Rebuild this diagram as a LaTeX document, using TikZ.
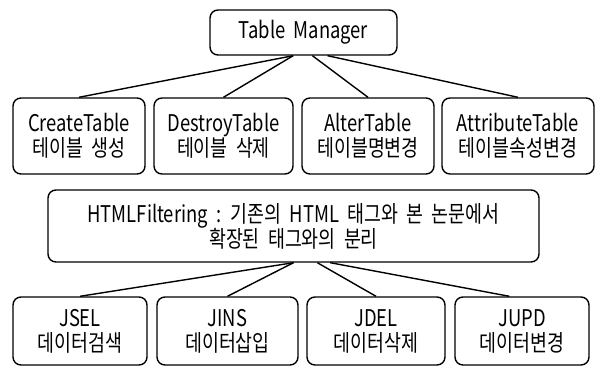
\documentclass[tikz,border=0pt]{standalone}
\usepackage{fontspec}
\setmainfont[FakeStretch=0.8,WordSpace=2]{Noto Sans CJK KR}

\begin{document}
\begin{tikzpicture}[x=1pt,y=-1pt,line width=1.4pt,
  box/.style={draw,rounded corners=8pt,align=center,inner sep=0pt,
    font=\fontsize{23}{25}\selectfont}]
\useasboundingbox (0,0) rectangle (597,371);
% ---------- 최상위 : Table Manager ----------
\node[box,minimum width=187pt,minimum height=45pt] (tm) at (303.5,32.5) {Table Manager};
% ---------- 테이블 연산 ----------
\node[box,minimum width=132pt,minimum height=76pt] (ct)  at (79,136)    {CreateTable\\테이블 생성};
\node[box,minimum width=139pt,minimum height=76pt] (dt)  at (223.5,136) {DestroyTable\\테이블 삭제};
\node[box,minimum width=132pt,minimum height=76pt] (at)  at (368,136)   {AlterTable\\테이블명변경};
\node[box,minimum width=152pt,minimum height=76pt] (att) at (518,136)   {AttributeTable\\테이블속성변경};
\foreach \a/\b in {-114/ct,-114/dt,-69/at,-44/att}{
  \draw (tm.\a) -- (\b.north);
}
% ---------- HTML 필터링 ----------
\node[box,minimum width=491pt,minimum height=72pt] (hf) at (293.5,226)
  {HTMLFiltering : 기존의 HTML 태그와 본 논문에서\\확장된 태그와의 분리};
% ---------- 데이터 연산 ----------
\node[box,minimum width=134pt,minimum height=68pt] (jsel) at (80,331)    {JSEL\\데이터검색};
\node[box,minimum width=141pt,minimum height=68pt] (jins) at (227.5,331) {JINS\\데이터삽입};
\node[box,minimum width=138pt,minimum height=68pt] (jdel) at (376,331)   {JDEL\\데이터삭제};
\node[box,minimum width=134pt,minimum height=68pt] (jupd) at (522,331)   {JUPD\\데이터변경};
\foreach \a/\b in {south/jsel.north,south/jins.north,-57/jdel.north,-45/jupd.110}{
  \draw (hf.\a) -- (\b);
}
\end{tikzpicture}
\end{document}
